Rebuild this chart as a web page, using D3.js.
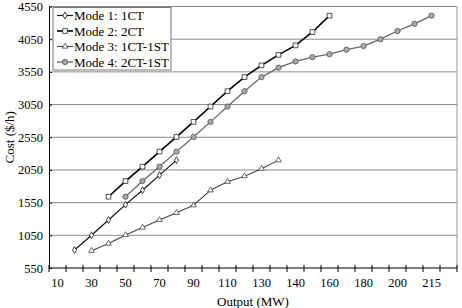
<!DOCTYPE html>
<html>
<head>
<meta charset="utf-8">
<script src="https://cdn.jsdelivr.net/npm/d3@7"></script>
<style>
  body { margin: 0; background: #fff; }
  svg { display: block; font-family: "Liberation Serif", "DejaVu Serif", serif; }
</style>
</head>
<body>
<div id="chart"></div>
<script>
// x axis is a category axis, one slot per output level
const categories = ['10','20','30','40','50','60','70','80','90','100','110','120','130','135','140','150','160','170','180','190','200','210','215','220'];
const yTicks = [550, 1050, 1550, 2050, 2550, 3050, 3550, 4050, 4550];

const mode1 = [null, 825, 1050, 1285, 1520, 1740, 1970, 2200, null, null, null, null, null, null, null, null, null, null, null, null, null, null, null, null];
const mode2 = [null, null, null, 1640, 1880, 2100, 2330, 2555, 2785, 3020, 3255, 3470, 3650, 3810, 3955, 4160, 4410, null, null, null, null, null, null, null];
const mode3 = [null, null, 815, 925, 1055, 1170, 1285, 1395, 1510, 1740, 1870, 1955, 2070, 2200, null, null, null, null, null, null, null, null, null, null];
const mode4 = [null, null, null, null, 1640, 1880, 2100, 2330, 2555, 2785, 3020, 3255, 3470, 3615, 3710, 3775, 3820, 3890, 3945, 4050, 4175, 4285, 4410, null];

const seriesNames = ['Mode 1: 1CT', 'Mode 2: 2CT', 'Mode 3: 1CT-1ST', 'Mode 4: 2CT-1ST'];

const W = 462, H = 308;
const margin = { top: 6.5, right: 5, bottom: 40, left: 49 };
const width = W - margin.left - margin.right;
const height = H - margin.top - margin.bottom;

const svg = d3.select('#chart').append('svg')
  .attr('width', W)
  .attr('height', H);

const g = svg.append('g')
  .attr('transform', `translate(${margin.left},${margin.top})`);

const x = d3.scaleBand().domain(categories).range([0, width]).padding(0);
const y = d3.scaleLinear().domain([550, 4550]).range([height, 0]);
const cx = c => x(c) + x.bandwidth() / 2;

// gridlines
g.append('g')
  .selectAll('line')
  .data(yTicks.slice(1))
  .enter().append('line')
  .attr('x1', 0).attr('x2', width)
  .attr('y1', d => y(d)).attr('y2', d => y(d))
  .attr('stroke', '#8a8a8a')
  .attr('stroke-width', 1);

// right border of plot area
g.append('line')
  .attr('x1', width).attr('x2', width)
  .attr('y1', 0).attr('y2', height)
  .attr('stroke', '#999');

// y axis
const yAxis = g.append('g')
  .call(d3.axisLeft(y).tickValues(yTicks).tickFormat(d3.format('d')).tickSize(4).tickSizeOuter(0))
  .attr('font-family', '"Liberation Serif", serif')
  .attr('font-size', 12.5);
yAxis.select('.domain').attr('stroke', '#000');
yAxis.selectAll('.tick line').attr('x2', 3).attr('stroke', '#000');
yAxis.selectAll('.tick text')
  .attr('x', -6)
  .attr('fill', '#000');

// x axis: ticks at category boundaries, labels every second category
const bounds = d3.range(categories.length + 1).map(i => i * x.step());
const xAxis = g.append('g').attr('transform', `translate(0,${height})`);
xAxis.append('line')
  .attr('x1', 0).attr('x2', width)
  .attr('stroke', '#000');
xAxis.selectAll('.xt')
  .data(bounds)
  .enter().append('line')
  .attr('class', 'xt')
  .attr('x1', d => d).attr('x2', d => d)
  .attr('y1', -3).attr('y2', 4)
  .attr('stroke', '#000');
xAxis.selectAll('text')
  .data(categories.filter((c, i) => i % 2 === 0 && i < 23))
  .enter().append('text')
  .attr('x', d => cx(d))
  .attr('y', 19)
  .attr('text-anchor', 'middle')
  .style('font-size', '12.5px')
  .text(d => d);

// axis titles
svg.append('text')
  .attr('x', margin.left + width / 2)
  .attr('y', 306)
  .attr('text-anchor', 'middle')
  .style('font-size', '13px')
  .text('Output (MW)');

svg.append('text')
  .attr('transform', `translate(14,${margin.top + height / 2}) rotate(-90)`)
  .attr('text-anchor', 'middle')
  .style('font-size', '13px')
  .text('Cost ($/h)');

const styles = [
  { data: mode1, color: '#111', width: 1.2, marker: 'diamond', fill: '#fff', mstroke: '#111' },
  { data: mode2, color: '#000', width: 1.6, marker: 'square', fill: '#fff', mstroke: '#222' },
  { data: mode3, color: '#444', width: 1.1, marker: 'triangle', fill: '#fff', mstroke: '#444' },
  { data: mode4, color: '#666', width: 1.3, marker: 'circle', fill: '#a8a8a8', mstroke: '#555' }
];

const symbolType = {
  diamond: d3.symbolDiamond,
  square: d3.symbolSquare,
  triangle: d3.symbolTriangle,
  circle: d3.symbolCircle
};
const symbolSize = { diamond: 14, square: 22, triangle: 14, circle: 22 };

const line = d3.line()
  .defined(d => d.v !== null)
  .x(d => cx(d.c))
  .y(d => y(d.v));

styles.forEach(s => {
  const pts = categories.map((c, i) => ({ c: c, v: s.data[i] }));
  g.append('path')
    .datum(pts)
    .attr('fill', 'none')
    .attr('stroke', s.color)
    .attr('stroke-width', s.width)
    .attr('d', line);
  g.selectAll(null)
    .data(pts.filter(p => p.v !== null))
    .enter().append('path')
    .attr('transform', p => `translate(${cx(p.c)},${y(p.v)})`)
    .attr('d', d3.symbol().type(symbolType[s.marker]).size(symbolSize[s.marker]))
    .attr('fill', s.fill)
    .attr('stroke', s.mstroke)
    .attr('stroke-width', 0.8);
});

// legend
const legend = svg.append('g').attr('transform', 'translate(53,7.5)');
legend.append('rect')
  .attr('width', 118)
  .attr('height', 62.5)
  .attr('fill', '#fff')
  .attr('stroke', '#777')
  .attr('stroke-width', 1);

const items = legend.selectAll('.item')
  .data(styles)
  .enter().append('g')
  .attr('class', 'item')
  .attr('transform', (d, i) => `translate(0,${8 + i * 15.5})`);

items.append('line')
  .attr('x1', 4).attr('x2', 20)
  .attr('stroke', d => d.color)
  .attr('stroke-width', d => d.width);
items.append('path')
  .attr('transform', 'translate(12,0)')
  .attr('d', d => d3.symbol().type(symbolType[d.marker]).size(symbolSize[d.marker])())
  .attr('fill', d => d.fill)
  .attr('stroke', d => d.mstroke)
  .attr('stroke-width', 0.8);
items.append('text')
  .attr('x', 21)
  .attr('y', 4.5)
  .style('font-size', '13px')
  .text((d, i) => seriesNames[i]);
</script>
</body>
</html>
